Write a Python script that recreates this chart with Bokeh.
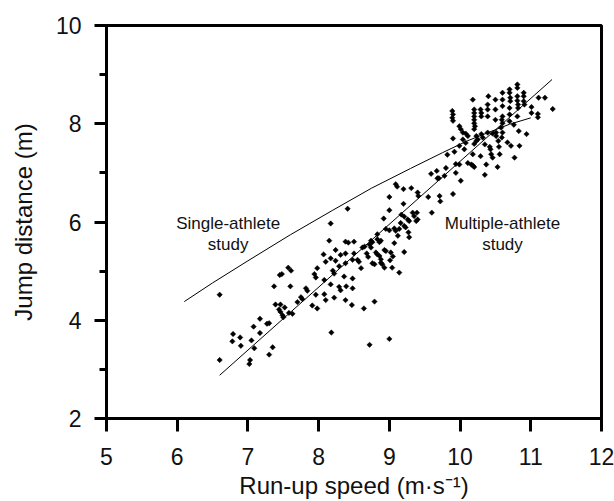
from bokeh.plotting import figure
from bokeh.models import Range1d, SingleIntervalTicker
from bokeh.embed import file_html
from bokeh.resources import INLINE
from bokeh.core.properties import value

# ---- data ----
pts_x = [
    # lower-left cluster
    6.60, 7.37, 7.45, 7.48, 7.57, 7.60, 7.39, 7.46, 7.52, 7.44, 7.46, 7.49, 7.50, 7.58, 7.17,
    7.08, 7.27, 7.30, 7.17, 6.79, 6.89, 6.78, 7.05, 6.90, 7.09, 7.35, 7.30, 6.60, 7.03, 7.02,
    # 7.6 - 8.75
    8.41, 8.17, 8.15, 8.38, 8.42, 8.50, 8.62, 8.65, 8.72, 8.07, 8.24, 8.31, 8.38, 8.50, 8.55,
    8.57, 8.17, 8.10, 8.24, 8.29, 8.38, 8.48, 8.60, 7.98, 7.94, 7.96, 8.20, 8.22, 8.36, 8.48,
    8.08, 8.17, 8.29, 8.31, 8.39, 7.82, 7.84, 7.75, 7.77, 7.70, 7.96, 8.08, 8.10, 8.22, 8.38,
    8.48, 7.91, 7.98, 8.64, 7.61, 8.47, 8.68, 8.70, 8.18, 8.72, 7.63,
    # 8.75 - 9.75
    9.09, 9.11, 9.00, 9.20, 9.31, 9.40, 9.41, 9.55, 9.59, 9.67, 9.68, 9.70, 9.71, 9.72, 9.60,
    9.20, 9.00, 8.92, 9.17, 9.21, 9.26, 9.28, 9.33, 9.35, 9.39, 9.40, 9.38, 9.16,
    8.83, 8.95, 9.00, 9.07, 9.09, 9.12, 9.21, 9.23, 9.14, 9.27, 9.28, 9.07, 8.74, 8.76, 8.83,
    8.88, 8.86, 8.74, 8.81, 8.83, 8.86, 8.88, 8.93, 8.95, 9.02, 9.05, 9.21, 9.01, 8.76, 8.79,
    8.88, 8.90, 8.93, 9.04, 9.14, 8.79, 9.00,
    # upper-right cluster
    9.89, 9.90, 9.89, 9.90, 9.99, 10.01, 10.04, 10.08, 9.90, 10.11, 10.18,
    10.20, 10.20, 10.20, 10.20, 10.20, 10.21, 10.20, 10.23, 10.29, 10.30, 10.30,
    10.39, 10.39, 10.39, 10.40, 10.50, 10.50, 10.50,
    10.60, 10.60, 10.60, 10.60, 10.59, 10.60,
    10.70, 10.70, 10.71, 10.71, 10.70, 10.70, 10.70,
    10.81, 10.81, 10.81, 10.81, 10.82, 10.82, 10.81,
    10.90, 10.90, 10.90, 10.91,
    11.01, 11.01, 11.10, 11.10, 11.11, 11.20, 11.31,
    10.94, 10.83, 10.76,
    10.58, 10.60, 10.51, 10.51, 10.46, 10.39, 10.30, 10.32, 10.25, 10.23, 10.20,
    10.04, 10.08, 9.92, 9.82, 9.99, 10.06, 10.35, 10.42, 10.43, 10.54, 10.55, 10.59, 10.67,
    10.72, 10.84,
    10.18, 10.29, 10.44, 10.46, 10.56, 10.77,
    9.94, 9.99, 10.11, 10.16, 10.18, 10.20, 10.37, 10.53,
    9.94, 10.01, 10.35, 9.80, 9.78, 9.90,
]
pts_y = [
    4.52, 4.69, 4.92, 4.94, 5.07, 4.69, 4.32, 4.32, 4.26, 4.22, 4.17, 4.10, 4.06, 4.15, 4.03,
    3.87, 3.93, 3.94, 3.74, 3.72, 3.65, 3.57, 3.59, 3.48, 3.43, 3.45, 3.30, 3.19, 3.19, 3.11,
    6.27, 5.97, 5.62, 5.60, 5.58, 5.60, 5.48, 5.50, 5.54, 5.34, 5.43, 5.33, 5.36, 5.36, 5.23,
    5.19, 5.26, 5.19, 5.21, 5.10, 5.16, 5.23, 5.06, 5.06, 4.94, 4.87, 5.01, 4.95, 4.89, 4.85,
    4.82, 4.73, 4.68, 4.61, 4.69, 4.65, 4.60, 4.47, 4.43, 4.37, 4.52, 4.53, 4.41, 4.46, 4.41,
    4.65, 4.30, 4.24, 4.24, 5.01, 4.31, 5.36, 5.29, 3.75, 3.50, 4.13,
    6.77, 6.72, 6.51, 6.67, 6.69, 6.60, 6.53, 6.51, 6.98, 7.04, 6.89, 6.89, 6.53, 6.42, 6.19,
    6.37, 6.24, 6.07, 6.15, 6.11, 6.05, 6.02, 6.19, 6.12, 6.19, 6.05, 6.02, 5.98,
    5.75, 5.86, 5.83, 5.87, 5.82, 5.72, 5.92, 5.89, 5.86, 5.79, 5.69, 5.57, 5.62, 5.59, 5.65,
    5.62, 5.59, 5.48, 5.38, 5.34, 5.31, 5.24, 5.43, 5.41, 5.38, 5.30, 5.39, 5.22, 5.16, 5.14,
    5.17, 5.14, 5.07, 5.07, 4.97, 4.38, 3.62,
    8.26, 8.19, 8.12, 8.06, 7.95, 7.89, 7.82, 7.80, 7.70, 7.75, 8.49,
    8.29, 8.22, 8.15, 8.08, 8.01, 7.95, 7.89, 7.75, 8.29, 8.22, 8.15,
    8.39, 8.29, 8.15, 8.56, 8.49, 8.29, 8.08,
    8.63, 8.49, 8.36, 8.15, 8.08, 8.01,
    8.70, 8.63, 8.53, 8.46, 8.32, 8.19, 8.05,
    8.80, 8.73, 8.56, 8.47, 8.39, 8.32, 8.15,
    8.63, 8.56, 8.46, 8.39,
    8.34, 8.22, 8.20, 8.13, 8.53, 8.53, 8.30,
    7.79, 7.85, 7.98,
    7.92, 7.82, 7.82, 7.75, 7.80, 7.82, 7.79, 7.72, 7.68, 7.65, 7.59,
    7.68, 7.61, 7.43, 7.37, 7.55, 7.48, 7.58, 7.53, 7.48, 7.65, 7.53, 7.72, 7.62,
    7.55, 7.55,
    7.38, 7.34, 7.38, 7.31, 7.38, 7.31,
    7.18, 7.17, 7.20, 7.17, 7.15, 7.12, 7.17, 7.12,
    7.00, 6.84, 6.96, 7.10, 6.94, 6.57,
]

single_x = [6.1, 6.5, 7.0, 7.6, 8.2, 8.75, 9.3, 9.75, 10.1, 10.45, 10.7, 11.0]
single_y = [4.38, 4.76, 5.21, 5.74, 6.24, 6.69, 7.09, 7.41, 7.65, 7.85, 7.99, 8.12]

multi_x = [6.6, 11.3]
multi_y = [2.88, 8.90]

label_x = [6.72, 6.72, 10.60, 10.60]
label_y = [5.97, 5.55, 5.97, 5.55]
label_text = ["Single-athlete", "study", "Multiple-athlete", "study"]

x_title = "Run-up speed (m\u00b7s\u207b\u00b9)"
y_title = "Jump distance (m)"

FONT = "Liberation Sans"
TXT = "#111111"

p = figure(width=614, height=501, output_backend="svg", toolbar_location=None,
           x_range=Range1d(5, 12), y_range=Range1d(2, 10),
           min_border_left=106, min_border_right=13, min_border_top=25, min_border_bottom=82,
           background_fill_color="white", border_fill_color="white")

p.xgrid.visible = False
p.ygrid.visible = False
p.outline_line_color = "black"
p.outline_line_width = 3

p.xaxis.ticker = SingleIntervalTicker(interval=1, num_minor_ticks=0)
p.yaxis.ticker = SingleIntervalTicker(interval=2, num_minor_ticks=2)

for ax in (p.xaxis, p.yaxis):
    ax.axis_line_width = 3
    ax.axis_line_color = "black"
    ax.major_tick_line_width = 3
    ax.minor_tick_line_width = 3
    ax.major_tick_in = 0
    ax.minor_tick_in = 0
    ax.major_label_text_font = FONT
    ax.major_label_text_font_size = "23px"
    ax.major_label_text_color = TXT
    ax.axis_label_text_font = FONT
    ax.axis_label_text_font_size = "24px"
    ax.axis_label_text_font_style = "normal"
    ax.axis_label_text_color = TXT

p.xaxis.major_tick_out = 13
p.yaxis.major_tick_out = 12
p.yaxis.minor_tick_out = 7
p.xaxis.major_label_standoff = 16
p.yaxis.major_label_standoff = 13
p.xaxis.axis_label_standoff = 4
p.yaxis.axis_label_standoff = 16
p.xaxis.axis_label = x_title
p.yaxis.axis_label = y_title

p.line(single_x, single_y, line_color="black", line_width=1)
p.line(multi_x, multi_y, line_color="black", line_width=1)

p.scatter(pts_x, pts_y, marker="square", angle=0.785, size=3.8,
          fill_color="black", line_color="black", line_width=0.5)

p.text(x=label_x, y=label_y, text=label_text, text_align="center", text_baseline="middle",
       text_font=value(FONT), text_font_size="17px", text_color=TXT)

open("out.html", "w").write(file_html(p, INLINE))
